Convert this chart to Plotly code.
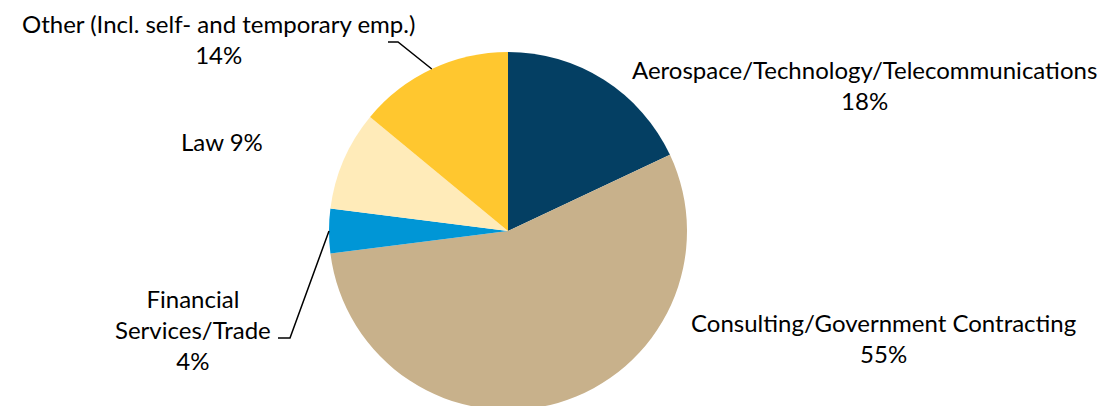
import math

import plotly.graph_objects as go

sectors = [
    'Aerospace/Technology/Telecommunications',
    'Consulting/Government Contracting',
    'Financial Services/Trade',
    'Law',
    'Other (Incl. self- and temporary emp.)',
]
shares = [18, 55, 4, 9, 14]
colors = ['#043f63', '#c8b18b', '#0096d6', '#ffebb9', '#ffc72f']
label_text = [
    'Aerospace/Technology/Telecommunications<br>18%',
    'Consulting/Government Contracting<br>55%',
    'Financial<br>Services/Trade<br>4%',
    'Law 9%',
    'Other (Incl. self- and temporary emp.)<br>14%',
]

W, H = 1114, 406
OFF = 8  # page body margin around the plot div

# label centres on the page, pixels (x, y)
label_pos = [(864, 85), (883, 338), (193, 329), (222, 141), (218, 39)]
# elbow of the leader line for the labels that use one, page pixels
leaders = {2: [(278, 338), (290, 338)], 4: [(388, 42), (398, 42)]}

# pie box on the page
left, right, top = 329, 687, 52
r = (right - left) / 2
cx, cy = left + r, top + r


def px(x):
    return (x - OFF) / W


def py(y):
    return 1 - (y - OFF) / H


fig = go.Figure(go.Pie(
    labels=sectors,
    values=shares,
    marker=dict(colors=colors, line=dict(width=0)),
    sort=False,
    direction='clockwise',
    rotation=0,
    textinfo='none',
    hoverinfo='label+percent',
    domain=dict(x=[px(left), px(right)], y=[max(py(top + 2 * r), 0), py(top)]),
    showlegend=False,
))

font = dict(family='Lato, Carlito, sans-serif', size=24, color='#000000')
for txt, (lx, ly) in zip(label_text, label_pos):
    fig.add_annotation(
        x=px(lx), y=py(ly), xref='paper', yref='paper',
        text=txt, showarrow=False, xanchor='center', yanchor='middle',
        font=font,
    )

# leader lines run to the middle of the slice's outer edge
total = sum(shares)
cum = 0
for i, v in enumerate(shares):
    mid = (cum + v / 2) / total * 2 * math.pi
    cum += v
    if i not in leaders:
        continue
    ex, ey = cx + r * math.sin(mid), cy - r * math.cos(mid)
    pts = leaders[i] + [(ex, ey)]
    path = 'M ' + ' L '.join(f'{px(x):.5f},{py(y):.5f}' for x, y in pts)
    fig.add_shape(type='path', path=path, xref='paper', yref='paper',
                  line=dict(color='#000000', width=1.5))

fig.update_layout(
    width=W,
    height=H,
    margin=dict(l=0, r=0, t=0, b=0),
    paper_bgcolor='white',
    plot_bgcolor='white',
)
fig.write_html('out.html')
